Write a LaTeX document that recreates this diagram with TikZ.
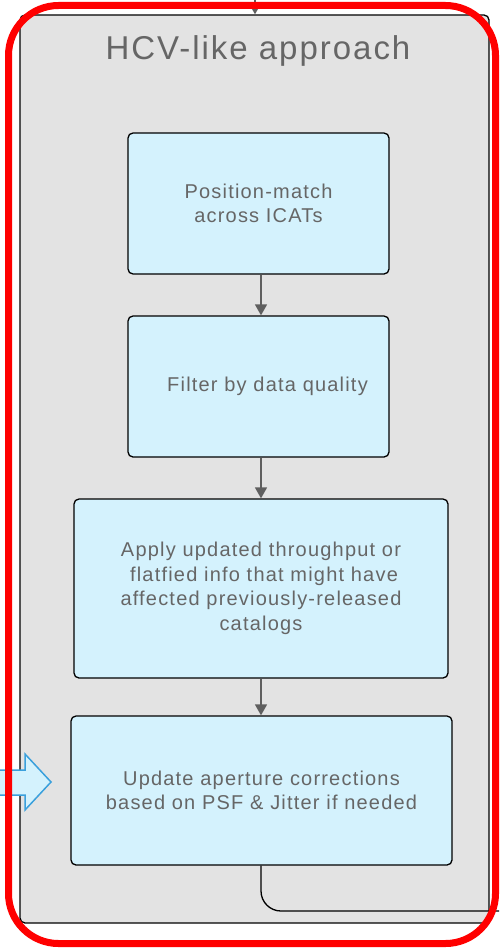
\documentclass[tikz,border=0pt]{standalone}
\usepackage{fontspec}
\setmainfont{Liberation Sans}[LetterSpace=6]
\usetikzlibrary{arrows.meta}
\definecolor{txtgray}{HTML}{666666}
\definecolor{boxblue}{HTML}{D4F2FD}
\definecolor{contgray}{HTML}{E3E3E3}
\definecolor{arrowgray}{HTML}{5F5F5F}
\definecolor{blockblue}{HTML}{3AA0DC}
\tikzset{
  stepbox/.style={draw=black, line width=1.3pt, fill=boxblue, rounded corners=5pt, inner sep=0pt, text=txtgray, align=center, font=\fontsize{20}{24.5}\selectfont},
  flow/.style={draw=arrowgray, line width=1.6pt, -{Triangle[length=11pt,width=12pt]}},
}
\begin{document}
\begin{tikzpicture}[x=1pt,y=-1pt]
\useasboundingbox (0,0) rectangle (499,952);
% container
\node[draw=black, line width=1.3pt, fill=contgray, rounded corners=5pt, minimum width=469pt, minimum height=908pt, inner sep=0pt] (cont) at (254.5,469) {};
\node[text=txtgray, font=\fontsize{33}{36}\selectfont] (title) at (258,51) {HCV-like approach};
\coordinate (topin) at (255,0);
\draw[flow] (topin) -- (cont.north -| topin);
% boxes
\node[stepbox, minimum width=261pt, minimum height=141pt] (b1) at (258.5,203.5) {Position-match\\across ICATs};
\node[stepbox, minimum width=261pt, minimum height=141pt] (b2) at (258.5,386.5) {\hspace*{18pt}Filter by data quality};
\node[stepbox, minimum width=374pt, minimum height=179pt] (b3) at (261,588.5) {Apply updated throughput or\\\hspace*{6pt}flatfied info that might have\\affected previously-released\\catalogs};
\node[stepbox, minimum width=381pt, minimum height=149pt] (b4) at (261.5,790.5) {Update aperture corrections\\based on PSF \& Jitter if needed};
\draw[flow] (b1.south -| 261,0) -- (b2.north -| 261,0);
\draw[flow] (b2.south -| 261,0) -- (b3.north -| 261,0);
\draw[flow] (b3.south -| 261,0) -- (b4.north -| 261,0);
% bottom connector
\coordinate (outr) at (499,911);
\draw[black, line width=1.3pt, rounded corners=20pt] (b4.south -| 261,0) -- (261,911) -- (outr);
% block arrow
\draw[blockblue, fill=boxblue, line width=1.5pt, line join=miter]
  (-5,770) -- (25,770) -- (25,754) -- (51,782) -- (25,810) -- (25,795) -- (-5,795);
% red frame
\draw[red, line width=7pt, rounded corners=50pt] (8.5,5.5) rectangle (495.5,943.5);
\end{tikzpicture}
\end{document}
